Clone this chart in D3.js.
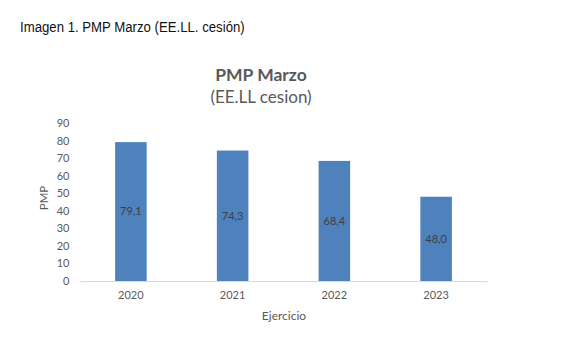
<!DOCTYPE html>
<html>
<head>
<meta charset="utf-8">
<script src="https://cdn.jsdelivr.net/npm/d3@7"></script>
<style>
  body { margin: 0; background: #fff; }
  svg { display: block; }
</style>
</head>
<body>
<svg id="chart" width="571" height="339"></svg>
<script>
// Data
const years = ["2020", "2021", "2022", "2023"];
const pmpValues = [79.1, 74.3, 68.4, 48.0];
const yTicks = [0, 10, 20, 30, 40, 50, 60, 70, 80, 90];

const svg = d3.select("#chart");
const font = "Lato, 'Open Sans', sans-serif";

// Caption above the chart (condensed sans)
svg.append("text")
  .attr("transform", "translate(20,32) scale(0.88,1)")
  .attr("font-family", "'Liberation Sans', Arial, sans-serif")
  .attr("font-size", 15)
  .attr("fill", "#111")
  .text("Imagen 1. PMP Marzo (EE.LL. cesión)");

// Plot area
const plotLeft = 80, plotRight = 487, plotTop = 123, plotBottom = 281;

const x = d3.scaleBand().domain(years).range([plotLeft, plotRight]).paddingInner(0.69).paddingOuter(0.345);
const y = d3.scaleLinear().domain([0, 90]).range([plotBottom, plotTop]);

// Chart titles
svg.append("text")
  .attr("x", 261).attr("y", 81)
  .attr("text-anchor", "middle")
  .attr("font-family", font).attr("font-weight", "bold")
  .attr("font-size", 17.5).attr("fill", "#595959")
  .text("PMP Marzo");
svg.append("text")
  .attr("x", 261).attr("y", 103)
  .attr("text-anchor", "middle")
  .attr("font-family", font)
  .attr("font-size", 17).attr("fill", "#595959")
  .text("(EE.LL cesion)");

// Bars
svg.append("g").selectAll("rect")
  .data(pmpValues)
  .join("rect")
  .attr("x", (d, i) => x(years[i]))
  .attr("y", d => y(d))
  .attr("width", x.bandwidth())
  .attr("height", d => y(0) - y(d))
  .attr("fill", "#4f81bd");

// Value labels centred in each bar
svg.append("g").selectAll("text")
  .data(pmpValues)
  .join("text")
  .attr("x", (d, i) => x(years[i]) + x.bandwidth() / 2)
  .attr("y", d => (y(d) + y(0)) / 2)
  .attr("dy", "0.35em")
  .attr("text-anchor", "middle")
  .attr("font-family", font).attr("font-size", 11)
  .attr("fill", "#404040")
  .text(d => d.toFixed(1).replace(".", ","));

// Y axis (labels only)
const yAxis = svg.append("g")
  .attr("transform", `translate(${plotLeft},0)`)
  .call(d3.axisLeft(y).tickValues(yTicks).tickSize(0).tickPadding(10.5));
yAxis.select(".domain").remove();
yAxis.selectAll("text")
  .attr("font-family", font).attr("font-size", 11).attr("fill", "#595959");

// X axis
const xAxis = svg.append("g")
  .attr("transform", `translate(0,${plotBottom})`)
  .call(d3.axisBottom(x).tickSize(0).tickPadding(10.5));
xAxis.select(".domain").attr("stroke", "#d9d9d9").attr("stroke-width", 1);
xAxis.selectAll("text")
  .attr("font-family", font).attr("font-size", 11).attr("fill", "#595959");

// Axis titles
svg.append("text")
  .attr("x", 284).attr("y", 320)
  .attr("text-anchor", "middle")
  .attr("font-family", font).attr("font-size", 12).attr("fill", "#595959")
  .text("Ejercicio");
svg.append("text")
  .attr("transform", `translate(48,${(plotTop + plotBottom) / 2 - 4}) rotate(-90)`)
  .attr("text-anchor", "middle")
  .attr("font-family", font).attr("font-size", 11.5).attr("fill", "#595959")
  .text("PMP");
</script>
</body>
</html>
